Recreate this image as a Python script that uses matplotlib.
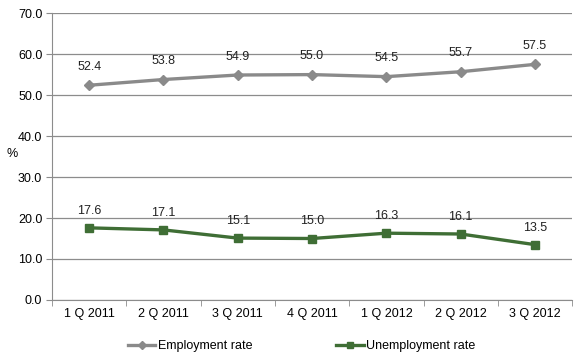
import matplotlib
matplotlib.use("Agg")
import matplotlib.pyplot as plt
import numpy as np

plt.rcParams["font.family"] = ["Liberation Sans", "DejaVu Sans"]

quarters = ["1 Q 2011", "2 Q 2011", "3 Q 2011", "4 Q 2011", "1 Q 2012", "2 Q 2012", "3 Q 2012"]
employment = [52.4, 53.8, 54.9, 55.0, 54.5, 55.7, 57.5]
unemployment = [17.6, 17.1, 15.1, 15.0, 16.3, 16.1, 13.5]

_GREY, _GREEN, _GRID = "#8a8a8a", "#3f6e35", "#8c8c8c"

fig = plt.figure(figsize=(5.76, 3.55), dpi=100)
ax = fig.add_axes([0.0903, 0.155, 0.903, 0.808])

x = np.arange(len(quarters))
ax.plot(x, employment, color=_GREY, lw=2.4, marker="D", ms=5,
        label="Employment rate")
ax.plot(x, unemployment, color=_GREEN, lw=2.4, marker="s", ms=5.5,
        label="Unemployment rate")

for xi, v in zip(x, employment):
    ax.annotate(f"{v:.1f}", (xi, v), xytext=(0, 9), textcoords="offset points",
                ha="center", va="bottom", fontsize=9, color="#222222")
for xi, v in zip(x, unemployment):
    ax.annotate(f"{v:.1f}", (xi, v), xytext=(0, 8), textcoords="offset points",
                ha="center", va="bottom", fontsize=9, color="#222222")

ax.set_xlim(-0.5, len(quarters) - 0.5)
ax.set_ylim(0, 70)
ax.set_yticks(np.arange(0, 71, 10))
ax.set_yticklabels([f"{t:.1f}" for t in np.arange(0, 71, 10)], fontsize=9)
ax.set_xticks(x)
ax.set_xticklabels(quarters, fontsize=9)
ax.set_xticks(np.arange(-0.5, len(quarters)), minor=True)
ax.tick_params(axis="x", which="major", length=0, pad=6)
ax.tick_params(axis="x", which="minor", length=4, color=_GRID)
ax.tick_params(axis="y", length=4, color=_GRID, pad=3)
ax.grid(axis="y", color=_GRID, lw=0.9)
ax.set_axisbelow(True)
for side in ("top", "right"):
    ax.spines[side].set_visible(False)
for side in ("left", "bottom"):
    ax.spines[side].set_color(_GRID)

fig.text(0.012, 0.565, "%", fontsize=9, va="center")

ax.legend(loc="upper center", bbox_to_anchor=(0.48, -0.1), ncol=2,
          frameon=False, fontsize=9, columnspacing=6.7, handlelength=2.2,
          handletextpad=0.2, markerscale=0.8)

fig.savefig("out.png", dpi=100)
